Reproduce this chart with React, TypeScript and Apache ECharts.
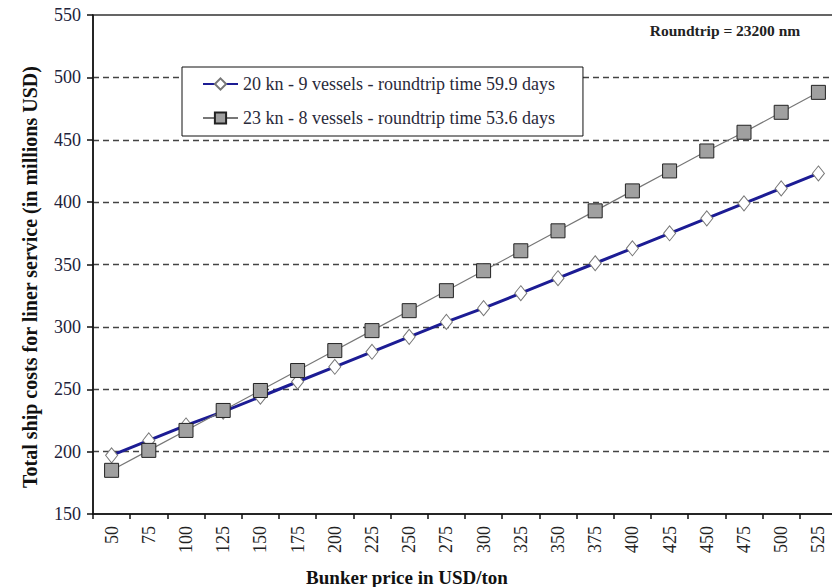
import React, { useEffect, useRef } from "react";
import * as echarts from "echarts";

const categories = ["50","75","100","125","150","175","200","225","250","275","300","325","350","375","400","425","450","475","500","525"];
const series20kn = [197, 209, 221, 232, 244, 256, 268, 280, 292, 304, 315, 327, 339, 351, 363, 375, 387, 399, 411, 423];
const series23kn = [185, 201, 217, 233, 249, 265, 281, 297, 313, 329, 345, 361, 377, 393, 409, 425, 441, 456, 472, 488];
const name20 = "20 kn - 9 vessels - roundtrip time 59.9 days";
const name23 = "23 kn - 8 vessels - roundtrip time 53.6 days";
const yTitle = "Total ship costs for liner service (in millions USD)";
const xTitle = "Bunker price in USD/ton";
const note = "Roundtrip = 23200 nm";

const SERIF = "Liberation Serif";

export default function App() {
  const ref = useRef<HTMLDivElement>(null);
  useEffect(() => {
    document.body.style.margin = "0";
    document.body.style.overflow = "hidden";
    const chart = echarts.init(ref.current!, null, { renderer: "svg" });
    chart.setOption({
      animation: false,
      backgroundColor: "#fff",
      textStyle: { fontFamily: SERIF },
      grid: {
        left: 93, top: 15, right: 3, bottom: 73,
        show: true, borderColor: "#333", borderWidth: 1.5, backgroundColor: "transparent",
      },
      legend: {
        orient: "vertical",
        left: 182, top: 67,
        padding: [8, 28, 9, 20],
        itemGap: 16,
        itemWidth: 35, itemHeight: 14,
        backgroundColor: "#fff",
        borderColor: "#111", borderWidth: 1,
        borderRadius: 0,
        textStyle: { fontFamily: SERIF, fontSize: 18, color: "#2a2a3a", lineHeight: 18 },
        data: [name20, name23],
      },
      xAxis: {
        type: "category",
        data: categories,
        boundaryGap: true,
        axisLine: { lineStyle: { color: "#111", width: 1.5 } },
        axisTick: { show: true, alignWithLabel: false, length: 5, lineStyle: { color: "#111", width: 1.5 } },
        axisLabel: { rotate: 90, fontFamily: SERIF, fontSize: 18, color: "#222", margin: 12 },
        splitLine: { show: false },
      },
      yAxis: {
        type: "value",
        min: 150, max: 550, interval: 50,
        axisLine: { show: true, lineStyle: { color: "#111", width: 1.5 } },
        axisTick: { show: true, length: 6, lineStyle: { color: "#111", width: 1.5 } },
        axisLabel: { fontFamily: SERIF, fontSize: 18, color: "#22223a", margin: 12 },
        splitLine: { show: true, showMaxLine: false, showMinLine: false, lineStyle: { color: "#444", width: 1.3, type: [6, 4] } },
      },
      graphic: [
        {
          type: "text", x: 725, y: 30,
          style: { text: note, font: `bold 15.5px ${SERIF}`, fill: "#222", align: "center", verticalAlign: "middle" },
        },
        {
          type: "text", x: 407, y: 577,
          style: { text: xTitle, font: `bold 19px ${SERIF}`, fill: "#111", align: "center", verticalAlign: "middle" },
        },
        {
          type: "text", x: 30, y: 277, rotation: Math.PI / 2,
          style: { text: yTitle, font: `bold 20px ${SERIF}`, fill: "#111", align: "center", verticalAlign: "middle" },
        },
      ],
      series: [
        {
          name: name20,
          type: "line",
          data: series20kn,
          symbol: "diamond",
          symbolSize: [12, 15],
          lineStyle: { color: "#1c1c94", width: 3 },
          itemStyle: { color: "#ffffff", borderColor: "#777", borderWidth: 1 },
          z: 2,
        },
        {
          name: name23,
          type: "line",
          data: series23kn,
          symbol: "rect",
          symbolSize: 14,
          lineStyle: { color: "#777", width: 1.2 },
          itemStyle: { color: "#a0a0a0", borderColor: "#222", borderWidth: 1 },
          z: 3,
        },
      ],
    });
    return () => chart.dispose();
  }, []);
  return <div ref={ref} style={{ position: "absolute", left: 0, top: 0, width: 840, height: 587 }} />;
}
